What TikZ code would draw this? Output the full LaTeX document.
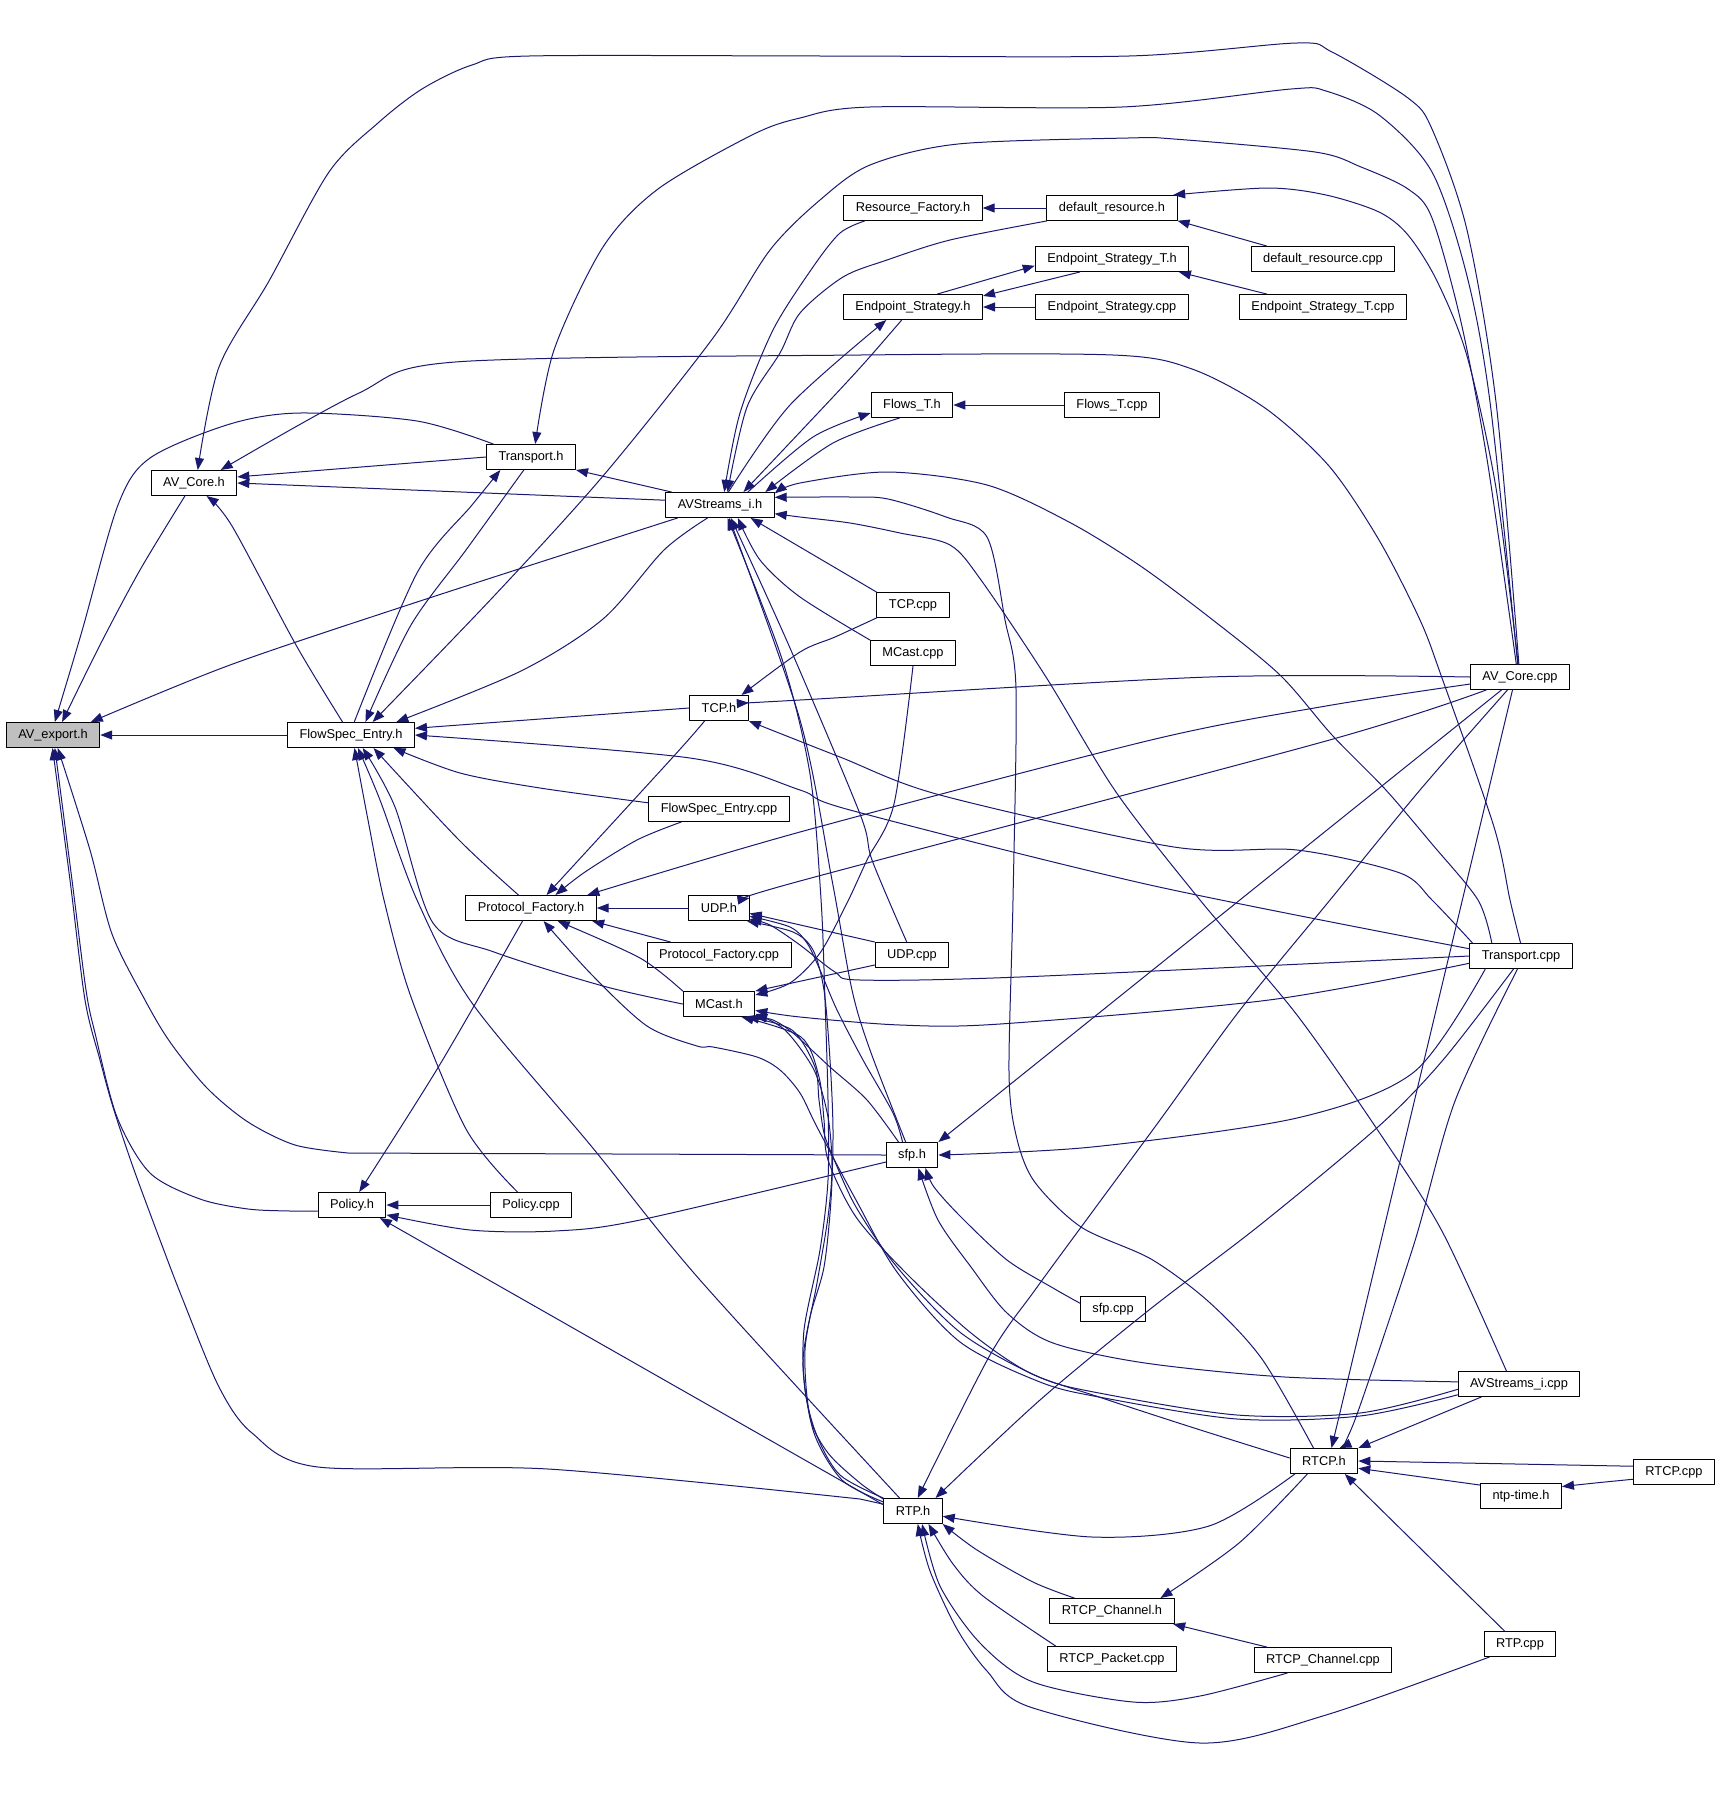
\documentclass[tikz,border=0pt]{standalone}
\usepackage{fontspec}
\setmainfont{Liberation Sans}
\usetikzlibrary{arrows.meta}
\definecolor{edgeblue}{RGB}{25,25,112}
\definecolor{rootgray}{RGB}{191,191,191}
\tikzset{
  file/.style={draw=black,line width=1pt,fill=white,inner xsep=12pt,inner ysep=0pt,
    minimum height=25pt,font=\fontsize{12.8}{15}\selectfont},
  root/.style={file,fill=rootgray},
  incl/.style={draw=edgeblue,line width=1pt,-{Triangle[length=12pt,width=9pt]}}
}
\begin{document}
\begin{tikzpicture}[line cap=round,line join=round,x=1pt,y=-1pt]
	\useasboundingbox (0,0) rectangle (1717,1800);
	\node [root] (AVexp) at (53,735) {AV\_export.h};
	\node [file] (AVCoreH) at (194,483) {AV\_Core.h};
	\node [file] (TransportH) at (531,457) {Transport.h};
	\node [file] (AVStreamsH) at (720,505) {AVStreams\_i.h};
	\node [file] (FlowSpecH) at (351,735) {FlowSpec\_Entry.h};
	\node [file] (TCPH) at (719,708) {TCP.h};
	\node [file] (FlowSpecCpp) at (719,809) {FlowSpec\_Entry.cpp};
	\node [file] (ProtoH) at (531,908) {Protocol\_Factory.h};
	\node [file] (UDPH) at (719,908) {UDP.h};
	\node [file] (ProtoCpp) at (719,955) {Protocol\_Factory.cpp};
	\node [file] (MCastH) at (719,1004) {MCast.h};
	\node [file] (PolicyH) at (352,1205) {Policy.h};
	\node [file] (PolicyCpp) at (531,1205) {Policy.cpp};
	\node [file] (ResFactH) at (913,208) {Resource\_Factory.h};
	\node [file] (DefResH) at (1112,208) {default\_resource.h};
	\node [file] (EpTH) at (1112,259) {Endpoint\_Strategy\_T.h};
	\node [file] (DefResCpp) at (1323,259) {default\_resource.cpp};
	\node [file] (EpH) at (913,307) {Endpoint\_Strategy.h};
	\node [file] (EpCpp) at (1112,307) {Endpoint\_Strategy.cpp};
	\node [file] (EpTCpp) at (1323,307) {Endpoint\_Strategy\_T.cpp};
	\node [file] (FlowsTH) at (912,405) {Flows\_T.h};
	\node [file] (FlowsTCpp) at (1112,405) {Flows\_T.cpp};
	\node [file] (TCPCpp) at (913,605) {TCP.cpp};
	\node [file] (MCastCpp) at (913,653) {MCast.cpp};
	\node [file] (AVCoreCpp) at (1520,677) {AV\_Core.cpp};
	\node [file] (UDPCpp) at (912,955) {UDP.cpp};
	\node [file] (TransportCpp) at (1521,956) {Transport.cpp};
	\node [file] (sfpH) at (912,1155) {sfp.h};
	\node [file] (sfpCpp) at (1113,1309) {sfp.cpp};
	\node [file] (AVStreamsCpp) at (1519,1384) {AVStreams\_i.cpp};
	\node [file] (RTCPH) at (1324,1461) {RTCP.h};
	\node [file] (RTCPCpp) at (1674,1472) {RTCP.cpp};
	\node [file] (ntpH) at (1521,1496) {ntp-time.h};
	\node [file] (RTPH) at (913,1511) {RTP.h};
	\node [file] (RTCPChH) at (1112,1611) {RTCP\_Channel.h};
	\node [file] (RTCPPktCpp) at (1112,1659) {RTCP\_Packet.cpp};
	\node [file] (RTCPChCpp) at (1323,1660) {RTCP\_Channel.cpp};
	\node [file] (RTPCpp) at (1520,1644) {RTP.cpp};
	\draw [incl] plot [smooth] coordinates {(AVCoreH.235) (140,570) (100,645) (AVexp.55)};
	\draw [incl] (FlowSpecH.west) -- (AVexp.east);
	\draw [incl] plot [smooth] coordinates {(AVStreamsH.197) (417,602) (230,665) (AVexp.19)};
	\draw [incl] plot [smooth] coordinates {(TransportH.161) (417,421) (300,413) (230,424) (150,458) (118,505) (82,631) (AVexp.82)};
	\draw [incl] (sfpH.west) -- plot [smooth] coordinates {(348,1153) (295,1145) (248,1122) (207,1088) (170,1042) (145,1000) (112,934) (90,850) (AVexp.290)};
	\draw [incl] plot [smooth] coordinates {(PolicyH.190) (290,1211) (248,1209) (200,1199) (150,1173) (117,1117) (95,1033) (86,990) (72,880) (AVexp.278)};
	\draw [incl] (RTPH.167) -- plot [smooth] coordinates {(860,1499) (548,1469) (318,1467) (252,1433) (219,1387) (183,1300) (160,1240) (133,1167) (113,1107) (100,1060) (85,1000) (70,880) (AVexp.268)};
	\draw [incl] (TransportH.west) -- (AVCoreH.8);
	\draw [incl] (AVStreamsH.175) -- (AVCoreH.east);
	\draw [incl] plot [smooth] coordinates {(FlowSpecH.123) (296,645) (232,526) (AVCoreH.314)};
	\draw [incl] plot [smooth] coordinates {(AVCoreCpp.95) (1496,402) (1467,230) (1432,129) (1408,98) (1332,52) (1297,43) (1129,56) (830,56) (529,56) (472,65) (422,89) (378,123) (329,172) (269,281) (219,367) (AVCoreH.74)};
	\draw [incl] plot [smooth] coordinates {(TransportCpp.92) (1510,900) (1494,827) (1442,678) (1420,620) (1379,540) (1329,466) (1265,408) (1192,369) (1113,355) (860,355) (455,362) (357,394) (AVCoreH.26)};
	\draw [incl] plot [smooth] coordinates {(AVCoreCpp.100) (1490,402) (1467,276) (1432,172) (1379,115) (1326,91) (1291,89) (1122,107) (870,107) (800,118) (752,135) (658,189) (603,247) (554,350) (TransportH.72)};
	\draw [incl] (AVStreamsH.165) -- (TransportH.south east);
	\draw [incl] plot [smooth] coordinates {(FlowSpecH.76) (417,573) (472,505) (TransportH.203)};
	\draw [incl] plot [smooth] coordinates {(TransportH.241) (466,550) (411,625) (FlowSpecH.42)};
	\draw [incl] plot [smooth] coordinates {(ResFactH.195) (840,233) (813,267) (773,330) (740,413) (AVStreamsH.72)};
	\draw [incl] plot [smooth] coordinates {(DefResH.south west) (950,240) (887,260) (843,277) (800,313) (780,353) (747,407) (AVStreamsH.60)};
	\draw [incl] plot [smooth] coordinates {(EpH.229) (867,360) (833,397) (AVStreamsH.29)};
	\draw [incl] plot [smooth] coordinates {(AVStreamsH.57) (790,405) (EpH.206)};
	\draw [incl] plot [smooth] coordinates {(AVStreamsH.25) (813,437) (FlowsTH.191)};
	\draw [incl] plot [smooth] coordinates {(FlowsTH.226) (833,443) (AVStreamsH.16)};
	\draw [incl] plot [smooth] coordinates {(TransportCpp.156) (1478,900) (1432,844) (1385,789) (1332,735) (1280,675) (1209,617) (1139,565) (1069,522) (987,485) (888,472) (800,483) (AVStreamsH.12)};
	\draw [incl] plot [smooth] coordinates {(RTCPH.129) (1262,1359) (1209,1302) (1151,1259) (1081,1227) (1034,1181) (1016,1135) (1009,1072) (1013,900) (1016,689) (1005,620) (987,537) (946,517) (888,499) (850,497) (AVStreamsH.8)};
	\draw [incl] plot [smooth] coordinates {(AVStreamsCpp.134) (1443,1233) (1385,1141) (1297,1015) (1200,900) (1116,792) (1046,677) (981,580) (950,545) (900,533) (850,523) (800,517) (AVStreamsH.351)};
	\draw [incl] (TCPCpp.north west) -- (AVStreamsH.337);
	\draw [incl] plot [smooth] coordinates {(MCastCpp.north west) (800,597) (760,560) (AVStreamsH.324)};
	\draw [incl] plot [smooth] coordinates {(sfpH.116) (870,1050) (852,990) (832,880) (800,720) (AVStreamsH.305)};
	\draw [incl] plot [smooth] coordinates {(UDPCpp.112) (872,860) (860,814) (790,648) (AVStreamsH.310)};
	\draw [incl] plot [smooth] coordinates {(RTPH.north west) (840,1475) (817,1436) (805,1390) (804,1330) (820,1250) (828,1180) (828,1100) (825,1000) (821,899) (810,774) (782,659) (AVStreamsH.300)};
	\draw [incl] (TCPH.west) -- (FlowSpecH.6);
	\draw [incl] plot [smooth] coordinates {(TransportCpp.172) (1150,885) (850,810) (800,790) (690,758) (FlowSpecH.east)};
	\draw [incl] plot [smooth] coordinates {(TransportCpp.165) (1432,900) (1400,873) (1297,850) (1174,847) (940,795) (840,757) (TCPH.south east)};
	\draw [incl] plot [smooth] coordinates {(AVCoreCpp.west) (1209,677) (800,700) (TCPH.10)};
	\draw [incl] plot [smooth] coordinates {(TCPCpp.south west) (835,637) (800,652) (TCPH.30)};
	\draw [incl] plot [smooth] coordinates {(TCPH.222) (673,757) (ProtoH.40)};
	\draw [incl] plot [smooth] coordinates {(FlowSpecCpp.175) (540,788) (460,773) (FlowSpecH.343)};
	\draw [incl] plot [smooth] coordinates {(FlowSpecCpp.199) (637,840) (585,872) (ProtoH.28)};
	\draw [incl] plot [smooth] coordinates {(AVCoreCpp.188) (1326,706) (1151,740) (800,832) (ProtoH.13)};
	\draw [incl] plot [smooth] coordinates {(AVCoreCpp.201) (1326,741) (800,881) (UDPH.18)};
	\draw [incl] (UDPH.west) -- (ProtoH.east);
	\draw [incl] (ProtoCpp.165) -- (ProtoH.348);
	\draw [incl] plot [smooth] coordinates {(MCastH.north west) (640,958) (ProtoH.334)};
	\draw [incl] plot [smooth] coordinates {(MCastH.west) (603,986) (494,952) (433,923) (395,807) (FlowSpecH.312)};
	\draw [incl] plot [smooth] coordinates {(ProtoH.134) (459,840) (FlowSpecH.330)};
	\draw [incl] plot [smooth] coordinates {(PolicyCpp.136) (466,1129) (411,997) (384,900) (368,820) (FlowSpecH.285)};
	\draw [incl] plot [smooth] coordinates {(RTPH.136) (700,1280) (592,1147) (472,1003) (417,900) (380,800) (FlowSpecH.298)};
	\draw [incl] plot [smooth] coordinates {(AVStreamsH.226) (664,550) (603,619) (521,671) (FlowSpecH.16)};
	\draw [incl] plot [smooth] coordinates {(AVCoreCpp.106) (1487,459) (1461,322) (1432,218) (1408,189) (1361,167) (1315,152) (1174,139) (1128,138) (958,144) (870,165) (820,200) (770,250) (713,338) (603,476) (494,596) (FlowSpecH.31)};
	\draw [incl] plot [smooth] coordinates {(AVCoreCpp.98) (1496,488) (1467,356) (1437,281) (1408,235) (1379,212) (1326,195) (1268,188) (DefResH.12)};
	\draw [incl] (DefResH.west) -- (ResFactH.east);
	\draw [incl] (DefResCpp.167) -- (DefResH.349);
	\draw [incl] (EpH.28) -- (EpTH.185);
	\draw [incl] (EpTH.202) -- (EpH.9);
	\draw [incl] (EpCpp.west) -- (EpH.east);
	\draw [incl] (EpTCpp.167) -- (EpTH.349);
	\draw [incl] (FlowsTCpp.west) -- (FlowsTH.east);
	\draw [incl] (UDPCpp.north west) -- (UDPH.350);
	\draw [incl] (UDPCpp.195) -- (MCastH.north east);
	\draw [incl] plot [smooth] coordinates {(MCastCpp.south) (894,804) (867,860) (847,903) (820,953) (790,983) (MCastH.14)};
	\draw [incl] plot [smooth] coordinates {(TransportCpp.west) (1020,977) (860,980) (835,972) (800,945) (770,925) (UDPH.340)};
	\draw [incl] plot [smooth] coordinates {(sfpH.126) (893,1113) (863,1060) (837,1010) (820,970) (807,943) (790,927) (UDPH.345)};
	\draw [incl] plot [smooth] coordinates {(RTPH.163) (842,1480) (814,1433) (803,1367) (810,1317) (824,1267) (831,1200) (833,1130) (830,1060) (824,990) (813,950) (793,932) (UDPH.335)};
	\draw [incl] plot [smooth] coordinates {(RTPH.158) (860,1483) (828,1453) (810,1417) (805,1350) (817,1283) (828,1217) (832,1167) (828,1117) (814,1070) (785,1030) (MCastH.345)};
	\draw [incl] plot [smooth] coordinates {(sfpH.136) (867,1100) (830,1067) (793,1033) (773,1020) (MCastH.340)};
	\draw [incl] plot [smooth] coordinates {(TransportCpp.188) (1269,1000) (1000,1024) (900,1025) (800,1017) (MCastH.350)};
	\draw [incl] plot [smooth] coordinates {(AVStreamsCpp.185) (1360,1413) (1237,1415) (1099,1393) (1039,1377) (961,1333) (897,1267) (856,1207) (833,1157) (824,1133) (819,1100) (815,1067) (792,1030) (MCastH.335)};
	\draw [incl] plot [smooth] coordinates {(RTCPH.175) (1191,1427) (1099,1397) (1030,1373) (971,1333) (906,1273) (856,1217) (828,1160) (824,1120) (819,1077) (801,1037) (MCastH.330)};
	\draw [incl] plot [smooth] coordinates {(AVStreamsCpp.190) (1360,1416) (1237,1419) (1099,1397) (1040,1382) (960,1342) (897,1272) (856,1200) (817,1127) (800,1093) (780,1070) (757,1057) (713,1047) (697,1046) (647,1026) (592,975) (ProtoH.314)};
	\draw [incl] plot [smooth] coordinates {(ProtoH.237) (439,1066) (PolicyH.61)};
	\draw [incl] (PolicyCpp.west) -- (PolicyH.east);
	\draw [incl] plot [smooth] coordinates {(sfpH.195) (640,1220) (555,1231) (470,1230) (PolicyH.344)};
	\draw [incl] (RTPH.168) -- (PolicyH.335);
	\draw [incl] (AVCoreCpp.215) -- (sfpH.north east);
	\draw [incl] plot [smooth] coordinates {(TransportCpp.200) (1414,1072) (1297,1118) (1092,1147) (sfpH.east)};
	\draw [incl] plot [smooth] coordinates {(sfpCpp.170) (1053,1288) (1007,1260) (961,1217) (934,1187) (sfpH.316)};
	\draw [incl] plot [smooth] coordinates {(AVStreamsCpp.178) (1285,1377) (1145,1363) (1053,1343) (1007,1313) (971,1267) (938,1220) (sfpH.296)};
	\draw [incl] plot [smooth] coordinates {(AVCoreCpp.226) (1420,790) (1330,900) (1240,1010) (1160,1120) (1090,1215) (1035,1290) (990,1355) (RTPH.70)};
	\draw [incl] plot [smooth] coordinates {(TransportCpp.240) (1443,1060) (1379,1126) (1260,1225) (1149,1310) (1040,1400) (RTPH.30)};
	\draw [incl] plot [smooth] coordinates {(RTCPH.204) (1209,1526) (1092,1537) (RTPH.350)};
	\draw [incl] plot [smooth] coordinates {(RTCPChH.161) (1033,1582) (977,1550) (RTPH.south east)};
	\draw [incl] plot [smooth] coordinates {(RTCPPktCpp.167) (983,1596) (953,1564) (RTPH.320)};
	\draw [incl] plot [smooth] coordinates {(RTCPChCpp.200) (1200,1696) (1133,1702) (1033,1682) (980,1643) (940,1586) (RTPH.305)};
	\draw [incl] plot [smooth] coordinates {(RTPCpp.203) (1326,1715) (1200,1743) (1030,1707) (987,1671) (957,1629) (930,1571) (RTPH.290)};
	\draw [incl] plot [smooth] coordinates {(RTCPH.218) (1239,1543) (RTCPChH.15)};
	\draw [incl] (RTCPChCpp.167) -- (RTCPChH.348);
	\draw [incl] (RTPCpp.140) -- (RTCPH.328);
	\draw [incl] (RTCPCpp.172) -- (RTCPH.east);
	\draw [incl] plot [smooth] coordinates {(RTCPCpp.190) (1595,1483) (ntpH.13)};
	\draw [incl] (ntpH.165) -- (RTCPH.348);
	\draw [incl] (AVStreamsCpp.199) -- (RTCPH.north east);
	\draw [incl] plot [smooth] coordinates {(TransportCpp.255) (1455,1101) (1414,1244) (1356,1417) (RTCPH.40)};
	\draw [incl] (AVCoreCpp.240) -- (RTCPH.60);
\end{tikzpicture}
\end{document}
